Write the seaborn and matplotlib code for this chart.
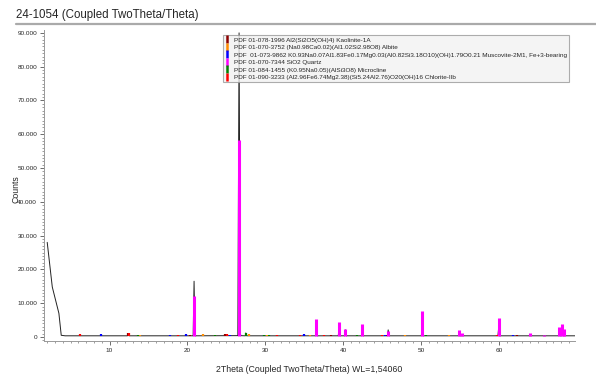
import numpy as np
import pandas as pd
import matplotlib
matplotlib.use("Agg")
import matplotlib.pyplot as plt
import matplotlib.ticker as mticker
from matplotlib.lines import Line2D
import seaborn as sns

scan_2theta = [2.0, 2.65, 3.5, 3.8, 4.3, 12.3, 12.4, 12.5, 20.74, 20.86, 20.98,
               26.48, 26.64, 26.8, 27.45, 27.5, 27.6, 36.45, 36.54, 36.63,
               39.38, 39.47, 39.56, 40.2, 40.29, 40.38, 42.36, 42.45, 42.54,
               45.7, 45.79, 45.88, 50.05, 50.14, 50.23, 54.8, 54.87, 54.95,
               59.88, 59.96, 60.05, 67.66, 67.74, 67.82, 68.06, 68.14, 68.22,
               68.25, 68.31, 68.38, 69.8]
scan_counts = [28000, 14800, 7000, 500, 350, 350, 700, 350, 350, 16500, 350,
               400, 90000, 400, 350, 1200, 350, 350, 3200, 350,
               350, 2600, 350, 350, 2100, 350, 350, 2200, 350,
               350, 2100, 350, 350, 3600, 350, 350, 1300, 350,
               350, 2300, 350, 350, 1600, 350, 350, 1900, 350,
               350, 1300, 350, 350]

phase_labels = [
    "PDF 01-078-1996 Al2(Si2O5(OH)4) Kaolinite-1A",
    "PDF 01-070-3752 (Na0.98Ca0.02)(Al1.02Si2.98O8) Albite",
    "PDF  01-073-9862 K0.93Na0.07Al1.83Fe0.17Mg0.03(Al0.82Si3.18O10)(OH)1.79O0.21 Muscovite-2M1, Fe+3-bearing",
    "PDF 01-070-7344 SiO2 Quartz",
    "PDF 01-084-1455 (K0.95Na0.05)(AlSi3O8) Microcline",
    "PDF 01-090-3233 (Al2.96Fe6.74Mg2.38)(Si5.24Al2.76)O20(OH)16 Chlorite-IIb",
]
phase_colors = ["#8b0000", "#ff8c00", "#0000ff", "#ff00ff", "#008000", "#ff0000"]

# stick positions / heights per phase
kaolinite_pos = [12.36, 20.35, 24.88, 35.0, 38.45, 45.6, 55.2, 62.3]
kaolinite_int = [700, 300, 500, 250, 300, 200, 200, 250]
albite_pos = [13.9, 22.05, 23.6, 27.95, 30.2, 35.7, 42.5, 48.0, 53.6]
albite_int = [250, 500, 300, 650, 250, 200, 200, 200, 200]
muscovite_pos = [8.85, 17.8, 19.85, 25.5, 26.8, 29.9, 34.95, 45.4, 61.8]
muscovite_int = [600, 300, 550, 350, 450, 350, 600, 250, 300]
quartz_pos = [20.86, 26.64, 36.54, 39.47, 40.29, 42.45, 45.79, 50.14, 54.87,
              55.33, 59.96, 64.03, 65.8, 67.74, 68.14, 68.31]
quartz_int = [11800, 58000, 4900, 4200, 2000, 3400, 1500, 7400, 1800,
              900, 5200, 900, 300, 2700, 3500, 2000]
microcline_pos = [13.7, 21.0, 23.5, 27.5, 29.8, 30.5, 41.8, 50.6]
microcline_int = [250, 300, 350, 700, 300, 250, 200, 200]
chlorite_pos = [6.25, 12.5, 18.8, 25.15, 31.5, 34.5, 37.6, 45.0, 59.8]
chlorite_int = [600, 800, 300, 500, 250, 250, 300, 200, 250]

sticks = [(kaolinite_pos, kaolinite_int), (albite_pos, albite_int),
          (muscovite_pos, muscovite_int), (quartz_pos, quartz_int),
          (microcline_pos, microcline_int), (chlorite_pos, chlorite_int)]

sns.set_theme(style="white")
plt.rcParams["font.family"] = ["Liberation Sans", "DejaVu Sans"]

fig = plt.figure(figsize=(5.96, 3.92), dpi=100)
ax = fig.add_axes([0.074, 0.13, 0.891, 0.793])

scan = pd.DataFrame({"2theta": scan_2theta, "counts": scan_counts})
sns.lineplot(data=scan, x="2theta", y="counts", color="#222222", lw=0.7,
             ax=ax, zorder=2)

# draw small sticks first, quartz last so it sits on top
order = [0, 1, 2, 4, 5, 3]
for i in order:
    pos, inten = sticks[i]
    ax.vlines(pos, 350, np.array(inten) + 350, color=phase_colors[i],
              lw=2.2 if i == 3 else 1.6, zorder=3)

ax.set_xlim(1.6, 69.8)
ax.set_ylim(-1200, 90800)
ax.xaxis.set_major_locator(mticker.MultipleLocator(10))
ax.xaxis.set_minor_locator(mticker.MultipleLocator(1))
ax.yaxis.set_major_locator(mticker.MultipleLocator(10000))
ax.yaxis.set_minor_locator(mticker.MultipleLocator(1000))
ax.yaxis.set_major_formatter(mticker.FuncFormatter(
    lambda v, p: f"{int(v):,}".replace(",", ".")))

for s in ["top", "right"]:
    ax.spines[s].set_visible(False)
for s in ["left", "bottom"]:
    ax.spines[s].set_color("#999999")
    ax.spines[s].set_linewidth(0.7)
ax.tick_params(axis="both", which="major", direction="out", length=3,
               width=0.6, color="#555555", labelsize=4.6, pad=2,
               bottom=True, left=True)
ax.tick_params(axis="both", which="minor", direction="out", length=1.5,
               width=0.5, color="#777777", bottom=True, left=True)

ax.set_xlabel("2Theta (Coupled TwoTheta/Theta) WL=1,54060", fontsize=6.3,
              labelpad=9)
ax.set_ylabel("Counts", fontsize=6.3)
ax.yaxis.set_label_coords(-0.045, 0.49)

handles = [Line2D([], [], color=c, marker="|", linestyle="none",
                  markersize=5.5, markeredgewidth=1.8) for c in phase_colors]
leg = ax.legend(handles, phase_labels, loc="upper left",
                bbox_to_anchor=(0.33, 0.995), fontsize=4.6, frameon=True,
                handlelength=0.8, handletextpad=0.6, labelspacing=0.32,
                borderpad=0.35, fancybox=False)
leg.get_frame().set_facecolor("#f2f2f2")
leg.get_frame().set_edgecolor("#999999")
leg.get_frame().set_linewidth(0.8)
leg.set_zorder(5)

fig.text(0.027, 0.962, "24-1054 (Coupled TwoTheta/Theta)", fontsize=8.3,
         ha="left", va="center")
fig.add_artist(Line2D([0.027, 1.0], [0.940, 0.940], color="#aaaaaa",
                      lw=1.6, transform=fig.transFigure))

fig.savefig("out.png", dpi=100)
